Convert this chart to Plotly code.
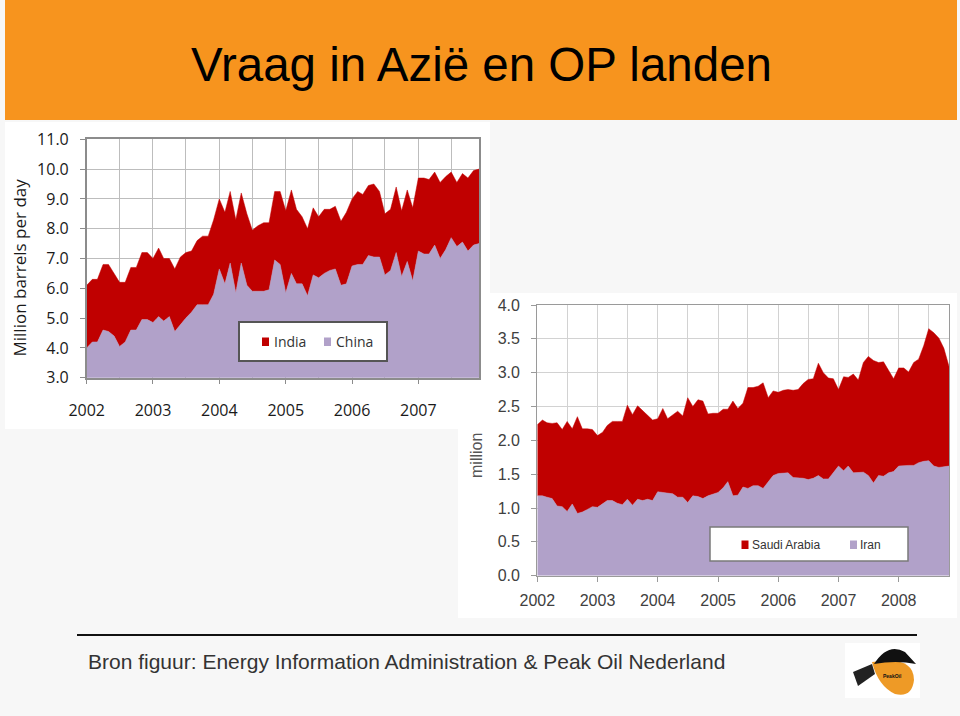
import pandas as pd
import plotly.graph_objects as go

# ---------------- data ----------------
months_asia = pd.date_range("2002-01-01", periods=72, freq="MS")
china = [4.0, 4.2, 4.2, 4.6, 4.55, 4.4, 4.05, 4.2, 4.6, 4.6, 4.95, 4.95,
         4.85, 5.05, 4.9, 5.05, 4.55, 4.8, 5.0, 5.2, 5.45, 5.45, 5.45, 5.8,
         6.65, 6.15, 6.85, 5.85, 6.85, 6.1, 5.9, 5.9, 5.9, 5.95, 6.95, 6.8,
         5.85, 6.5, 6.15, 6.15, 5.75, 6.45, 6.35, 6.5, 6.6, 6.65, 6.1, 6.15,
         6.75, 6.8, 6.8, 7.1, 7.05, 7.05, 6.45, 6.6, 7.2, 6.4, 6.9, 6.25,
         7.25, 7.15, 7.15, 7.45, 7.0, 7.3, 7.7, 7.4, 7.55, 7.25, 7.45, 7.5]
india = [2.1, 2.1, 2.1, 2.2, 2.25, 2.1, 2.15, 2.0, 2.1, 2.1, 2.25, 2.25,
         2.15, 2.3, 2.1, 1.95, 2.1, 2.25, 2.2, 2.05, 2.15, 2.3, 2.3, 2.5,
         2.35, 2.4, 2.4, 2.45, 2.35, 2.4, 2.05, 2.2, 2.3, 2.25, 2.3, 2.45,
         2.75, 2.8, 2.5, 2.25, 2.25, 2.25, 2.05, 2.15, 2.05, 2.1, 2.15, 2.4,
         2.25, 2.45, 2.35, 2.35, 2.45, 2.2, 2.05, 2.05, 2.2, 2.2, 2.4, 2.45,
         2.45, 2.55, 2.5, 2.45, 2.55, 2.45, 2.2, 2.15, 2.3, 2.45, 2.5, 2.5]

months_op = pd.date_range("2002-01-01", periods=83, freq="MS")
iran = [1.18, 1.18, 1.16, 1.14, 1.03, 1.02, 0.95, 1.06, 0.92, 0.94, 0.98, 1.02,
        1.01, 1.06, 1.11, 1.11, 1.07, 1.05, 1.13, 1.04, 1.13, 1.11, 1.13, 1.11,
        1.24, 1.23, 1.22, 1.21, 1.16, 1.16, 1.08, 1.18, 1.17, 1.14, 1.18, 1.21,
        1.23, 1.30, 1.39, 1.18, 1.19, 1.31, 1.29, 1.33, 1.33, 1.29, 1.38, 1.48,
        1.51, 1.52, 1.52, 1.45, 1.45, 1.44, 1.42, 1.44, 1.48, 1.43, 1.43, 1.52,
        1.62, 1.55, 1.62, 1.52, 1.53, 1.53, 1.48, 1.37, 1.48, 1.47, 1.52, 1.54,
        1.62, 1.63, 1.63, 1.63, 1.67, 1.69, 1.70, 1.62, 1.60, 1.61, 1.62]
saudi = [1.05, 1.12, 1.10, 1.11, 1.23, 1.14, 1.33, 1.11, 1.43, 1.23, 1.19, 1.14,
         1.06, 1.06, 1.11, 1.17, 1.21, 1.23, 1.39, 1.34, 1.38, 1.33, 1.24, 1.19,
         1.08, 1.24, 1.10, 1.17, 1.27, 1.20, 1.55, 1.32, 1.43, 1.44, 1.21, 1.19,
         1.17, 1.16, 1.07, 1.40, 1.28, 1.24, 1.49, 1.45, 1.47, 1.56, 1.25, 1.25,
         1.20, 1.22, 1.23, 1.29, 1.30, 1.40, 1.48, 1.47, 1.66, 1.57, 1.49, 1.39,
         1.13, 1.39, 1.31, 1.46, 1.36, 1.62, 1.76, 1.81, 1.67, 1.69, 1.52, 1.37,
         1.45, 1.44, 1.38, 1.52, 1.53, 1.71, 1.95, 1.97, 1.91, 1.75, 1.47]

title_text = "Vraag in Azië en OP landen"
source_text = "Bron figuur: Energy Information Administration & Peak Oil Nederland"

# ---------------- styling ----------------
W, H = 960, 716
RED = "#C00000"
LAV = "#B1A1C9"
ORANGE = "#F7941E"


def px(x):
    return x / W


def py(y):
    return 1 - y / H


fig = go.Figure()

fig.add_trace(go.Scatter(x=months_asia, y=china, name="China", stackgroup="asia",
                         mode="lines", line=dict(width=0.5, color=LAV), fillcolor=LAV,
                         xaxis="x", yaxis="y", showlegend=False))
fig.add_trace(go.Scatter(x=months_asia, y=india, name="India", stackgroup="asia",
                         mode="lines", line=dict(width=0.5, color=RED), fillcolor=RED,
                         xaxis="x", yaxis="y", showlegend=False))
fig.add_trace(go.Scatter(x=months_op, y=iran, name="Iran", stackgroup="op",
                         mode="lines", line=dict(width=0.5, color=LAV), fillcolor=LAV,
                         xaxis="x2", yaxis="y2", showlegend=False))
fig.add_trace(go.Scatter(x=months_op, y=saudi, name="Saudi Arabia", stackgroup="op",
                         mode="lines", line=dict(width=0.5, color=RED), fillcolor=RED,
                         xaxis="x2", yaxis="y2", showlegend=False))

f1 = dict(family="Open Sans, sans-serif", size=16, color="#1a1a1a")
f2 = dict(family="Liberation Sans, Arial, sans-serif", size=16, color="#404040")

common_x = dict(type="date", tick0="2002-01-01", dtick="M12", tickformat="%Y",
                ticks="outside", ticklen=5, showline=True, mirror=True,
                showgrid=True, fixedrange=True, automargin=False)

fig.update_layout(
    width=W, height=H,
    margin=dict(l=0, r=0, t=0, b=0, pad=0, autoexpand=False),
    paper_bgcolor="#f7f7f7",
    plot_bgcolor="#fcfcfc",
    showlegend=False,
    xaxis=dict(common_x, domain=[px(86.7), px(479)], anchor="y",
               range=["2002-01-01", "2007-12-01"],
               linecolor="#8c8c8c", linewidth=1.5, tickcolor="#8c8c8c",
               gridcolor="#bdbdbd", gridwidth=1.3,
               minor=dict(dtick="M6", tick0="2002-01-01", showgrid=True,
                          gridcolor="#bdbdbd", gridwidth=1.3),
               tickfont=f1, ticklabelstandoff=12),
    yaxis=dict(domain=[py(377.7), py(139.3)], anchor="x", range=[3, 11], dtick=1,
               tickformat=".1f", ticks="outside", ticklen=5, tickcolor="#8c8c8c",
               showline=True, mirror=True, linecolor="#8c8c8c", linewidth=1.5,
               gridcolor="#bdbdbd", gridwidth=1.3, tickfont=f1,
               ticklabelstandoff=8, fixedrange=True, automargin=False),
    xaxis2=dict(common_x, domain=[px(537.3), px(949)], anchor="y2",
                range=["2002-01-01", "2008-11-01"],
                linecolor="#9a9a9a", linewidth=1.3, tickcolor="#9a9a9a",
                gridcolor="#d2d2d2", gridwidth=1.3,
                minor=dict(dtick="M6", tick0="2002-01-01", showgrid=True,
                           gridcolor="#d2d2d2", gridwidth=1.3),
                tickfont=f2, ticklabelstandoff=5),
    yaxis2=dict(domain=[py(575.7), py(305)], anchor="x2", range=[0, 4], dtick=0.5,
                tickformat=".1f", ticks="outside", ticklen=5, tickcolor="#9a9a9a",
                showline=True, mirror=True, linecolor="#9a9a9a", linewidth=1.3,
                gridcolor="#d2d2d2", gridwidth=1.3, tickfont=f2,
                ticklabelstandoff=8, fixedrange=True, automargin=False),
)

shapes = []


def rect(x0, y0, x1, y1, fill, line_color=None, lw=0, layer="below"):
    shapes.append(dict(type="rect", xref="paper", yref="paper",
                       x0=px(x0), x1=px(x1), y0=py(y1), y1=py(y0),
                       fillcolor=fill, layer=layer,
                       line=dict(width=lw, color=line_color or fill)))


# title band and image backgrounds
rect(5, 0, 957, 120, ORANGE)
rect(458, 293, 957, 618, "#ffffff")
rect(5, 122, 490, 429, "#ffffff")

# footer rule
shapes.append(dict(type="line", xref="paper", yref="paper",
                   x0=px(77), x1=px(917), y0=py(635), y1=py(635),
                   line=dict(color="#111111", width=2)))

# legend boxes (chart 1)
rect(239, 322, 387, 361, "#ffffff", "#555555", 2, layer="above")
rect(262, 337.5, 269, 346, RED, layer="above")
rect(324, 337.5, 331, 346, LAV, layer="above")
# legend boxes (chart 2)
rect(710, 527, 908, 561, "#ffffff", "#7a7a7a", 1.5, layer="above")
rect(741.5, 540.5, 748.5, 549, RED, layer="above")
rect(850, 540.5, 857, 549, LAV, layer="above")

# logo (approximate)
rect(845, 643, 920, 698, "#ffffff")
shapes.append(dict(type="path", xref="paper", yref="paper", layer="above",
                   path=("M {a},{b} Q {c},{d} {e},{f} Q {g},{h} {i},{j} "
                         "Q {k},{l} {a},{b} Z").format(
                       a=px(872), b=py(662), c=px(914), d=py(655), e=px(914), f=py(680),
                       g=px(912), h=py(698), i=px(895), j=py(694), k=px(878), l=py(686)),
                   fillcolor="#EE9A26", line=dict(width=0)))
shapes.append(dict(type="path", xref="paper", yref="paper", layer="above",
                   path=("M {a},{b} Q {c},{d} {e},{f} L {g},{h} Q {i},{j} {a},{b} Z").format(
                       a=px(874), b=py(664), c=px(888), d=py(642), e=px(905), f=py(652),
                       g=px(916), h=py(664), i=px(896), j=py(660)),
                   fillcolor="#111111", line=dict(width=0)))
shapes.append(dict(type="path", xref="paper", yref="paper", layer="above",
                   path=("M {a},{b} L {c},{d} L {e},{f} L {g},{h} Z").format(
                       a=px(853), b=py(672), c=px(872), d=py(664), e=px(875), f=py(674),
                       g=px(858), h=py(686)),
                   fillcolor="#222222", line=dict(width=0)))

annotations = [
    dict(text=title_text, x=px(481), y=py(64), xref="paper", yref="paper",
         showarrow=False, xanchor="center", yanchor="middle",
         font=dict(family="Liberation Sans, Arial, sans-serif", size=47.5, color="#000000")),
    dict(text=source_text, x=px(86), y=py(661), xref="paper", yref="paper",
         showarrow=False, xanchor="left", yanchor="middle",
         font=dict(family="Liberation Sans, Arial, sans-serif", size=21, color="#333333")),
    dict(text="Million barrels per day", x=px(19), y=py(267.5), xref="paper", yref="paper",
         showarrow=False, textangle=-90, xanchor="center", yanchor="middle",
         font=dict(family="Open Sans, sans-serif", size=17, color="#1a1a1a")),
    dict(text="million", x=px(476), y=py(456), xref="paper", yref="paper",
         showarrow=False, textangle=-90, xanchor="center", yanchor="middle",
         font=dict(family="Liberation Sans, Arial, sans-serif", size=16, color="#555555")),
    dict(text="India", x=px(272), y=py(341.7), xref="paper", yref="paper",
         showarrow=False, xanchor="left", yanchor="middle",
         font=dict(family="Open Sans, sans-serif", size=14, color="#333333")),
    dict(text="China", x=px(333.5), y=py(341.7), xref="paper", yref="paper",
         showarrow=False, xanchor="left", yanchor="middle",
         font=dict(family="Open Sans, sans-serif", size=14, color="#333333")),
    dict(text="Saudi Arabia", x=px(749.5), y=py(544.5), xref="paper", yref="paper",
         showarrow=False, xanchor="left", yanchor="middle",
         font=dict(family="Liberation Sans, Arial, sans-serif", size=12, color="#333333")),
    dict(text="Iran", x=px(858), y=py(544.5), xref="paper", yref="paper",
         showarrow=False, xanchor="left", yanchor="middle",
         font=dict(family="Liberation Sans, Arial, sans-serif", size=12, color="#333333")),
    dict(text="<b>PeakOil</b>", x=px(892), y=py(676), xref="paper", yref="paper",
         showarrow=False, xanchor="center", yanchor="middle",
         font=dict(family="Liberation Sans, Arial, sans-serif", size=5, color="#111111")),
]

fig.update_layout(shapes=shapes, annotations=annotations)
fig.write_html("out.html", config={"displayModeBar": False},
               post_script="document.body.style.margin='0';")
